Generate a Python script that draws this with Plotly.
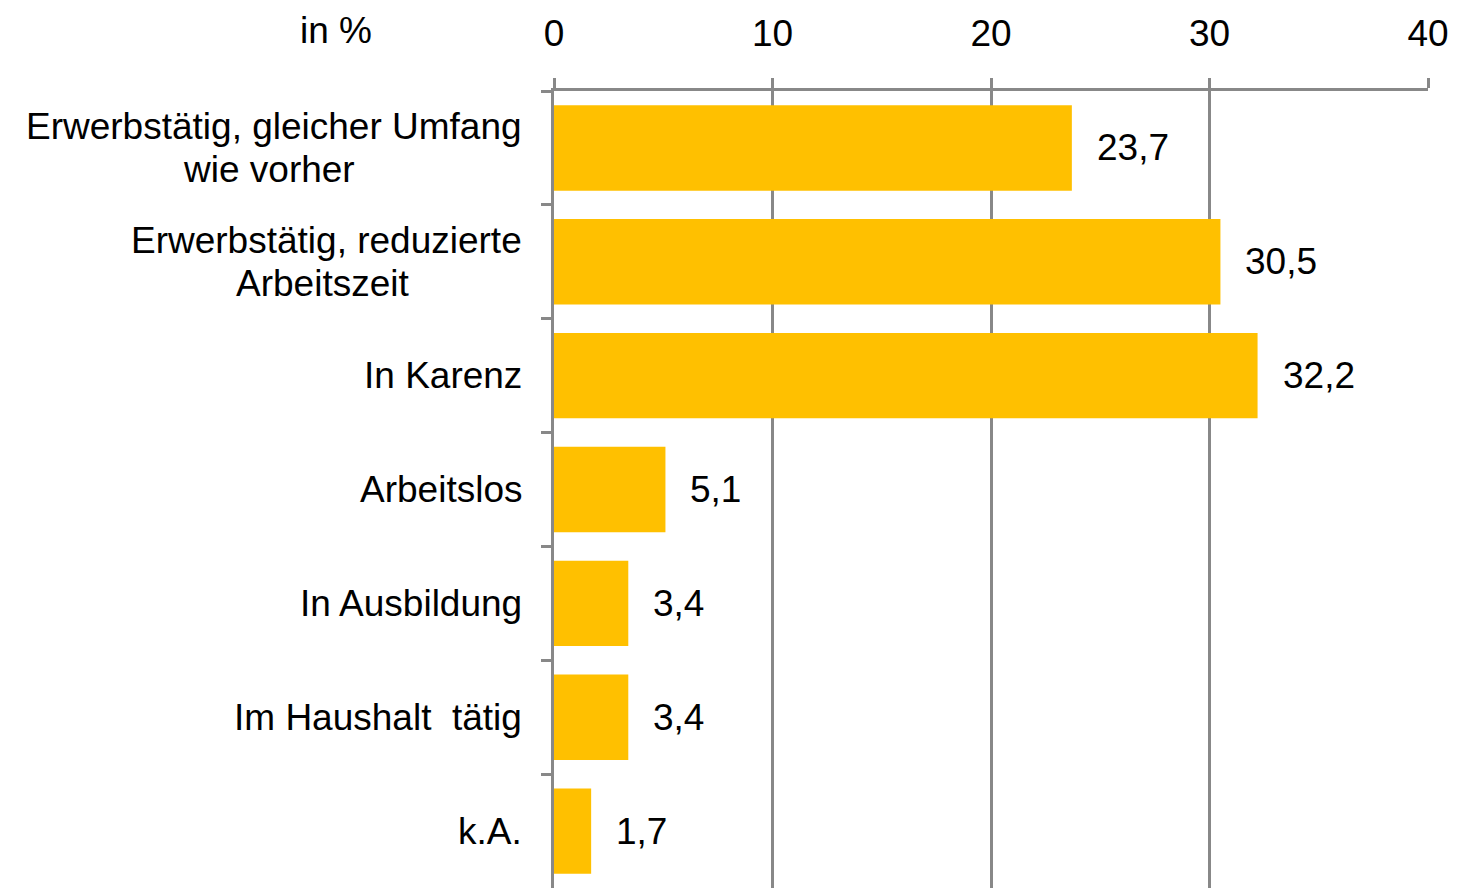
import plotly.graph_objects as go

categories = [
    ["Erwerbstätig, gleicher Umfang", "wie vorher"],
    ["Erwerbstätig, reduzierte", "Arbeitszeit"],
    ["In Karenz"],
    ["Arbeitslos"],
    ["In Ausbildung"],
    ["Im Haushalt  tätig"],
    ["k.A."],
]
values = [23.7, 30.5, 32.2, 5.1, 3.4, 3.4, 1.7]
x_ticks = [0, 10, 20, 30, 40]

BAR = "#FFC000"
GRID = "#888888"
FONT = "Liberation Sans, Arial, sans-serif"
FS = 37

fig_w, fig_h = 1449, 880
m_l, m_r, m_t, m_b = 546, 29, 83, 0
plot_w = fig_w - m_l - m_r

ids = [f"c{i}" for i in range(len(categories))]
# visual centres (page px) for the second lines of two-line labels
second_line_centres = {0: 269, 1: 322}

fig = go.Figure()
fig.add_trace(go.Bar(
    x=values, y=ids, orientation="h",
    marker=dict(color=BAR, line=dict(width=0)),
    hoverinfo="skip",
))

annotations = []
for i, (cid, lines) in enumerate(zip(ids, categories)):
    n = len(lines)
    for k, line in enumerate(lines):
        shift = ((n - 1) / 2 - k) * 43
        ann = dict(
            x=0, xref="paper", y=cid, yref="y",
            text=line.replace("  ", "&nbsp; "),
            xanchor="right", yanchor="middle",
            xshift=-30, yshift=shift,
            showarrow=False, font=dict(family=FONT, size=FS, color="#000000"),
        )
        if k > 0:
            ann.update(x=(second_line_centres[i] - 8 - m_l) / plot_w,
                       xanchor="center", xshift=0)
        annotations.append(ann)

for cid, v in zip(ids, values):
    annotations.append(dict(
        x=v, xref="x", y=cid, yref="y", text=f"{v:.1f}".replace(".", ","),
        xanchor="left", yanchor="middle", xshift=23,
        showarrow=False, font=dict(family=FONT, size=FS, color="#000000"),
    ))

annotations.append(dict(
    x=(336 - 8 - m_l) / plot_w, xref="paper", y=1, yref="paper",
    text="in %", showarrow=False, xanchor="center", yanchor="middle",
    yshift=(89 - 28),
    font=dict(family=FONT, size=FS, color="#000000"),
))

fig.update_layout(
    width=fig_w, height=fig_h,
    margin=dict(l=m_l, r=m_r, t=m_t, b=m_b),
    paper_bgcolor="white", plot_bgcolor="white",
    showlegend=False, bargap=0.25,
    font=dict(family=FONT, size=FS, color="#000000"),
    xaxis=dict(
        side="top", range=[0, 40], tickvals=x_ticks,
        ticktext=[str(t) for t in x_ticks],
        showgrid=True, gridcolor=GRID, gridwidth=2.5,
        showline=True, linecolor=GRID, linewidth=3,
        ticks="outside", ticklen=10, tickcolor=GRID, tickwidth=2.5,
        zeroline=False, ticklabelstandoff=17,
        tickfont=dict(family=FONT, size=FS, color="#000000"),
    ),
    yaxis=dict(
        type="category", categoryorder="array", categoryarray=ids,
        autorange="reversed", showticklabels=False,
        showgrid=False, zeroline=False,
        showline=True, linecolor=GRID, linewidth=3,
        ticks="outside", ticklen=10, tickcolor=GRID, tickwidth=2.5,
        tickson="boundaries",
    ),
    annotations=annotations,
)

fig.write_html("out.html")
